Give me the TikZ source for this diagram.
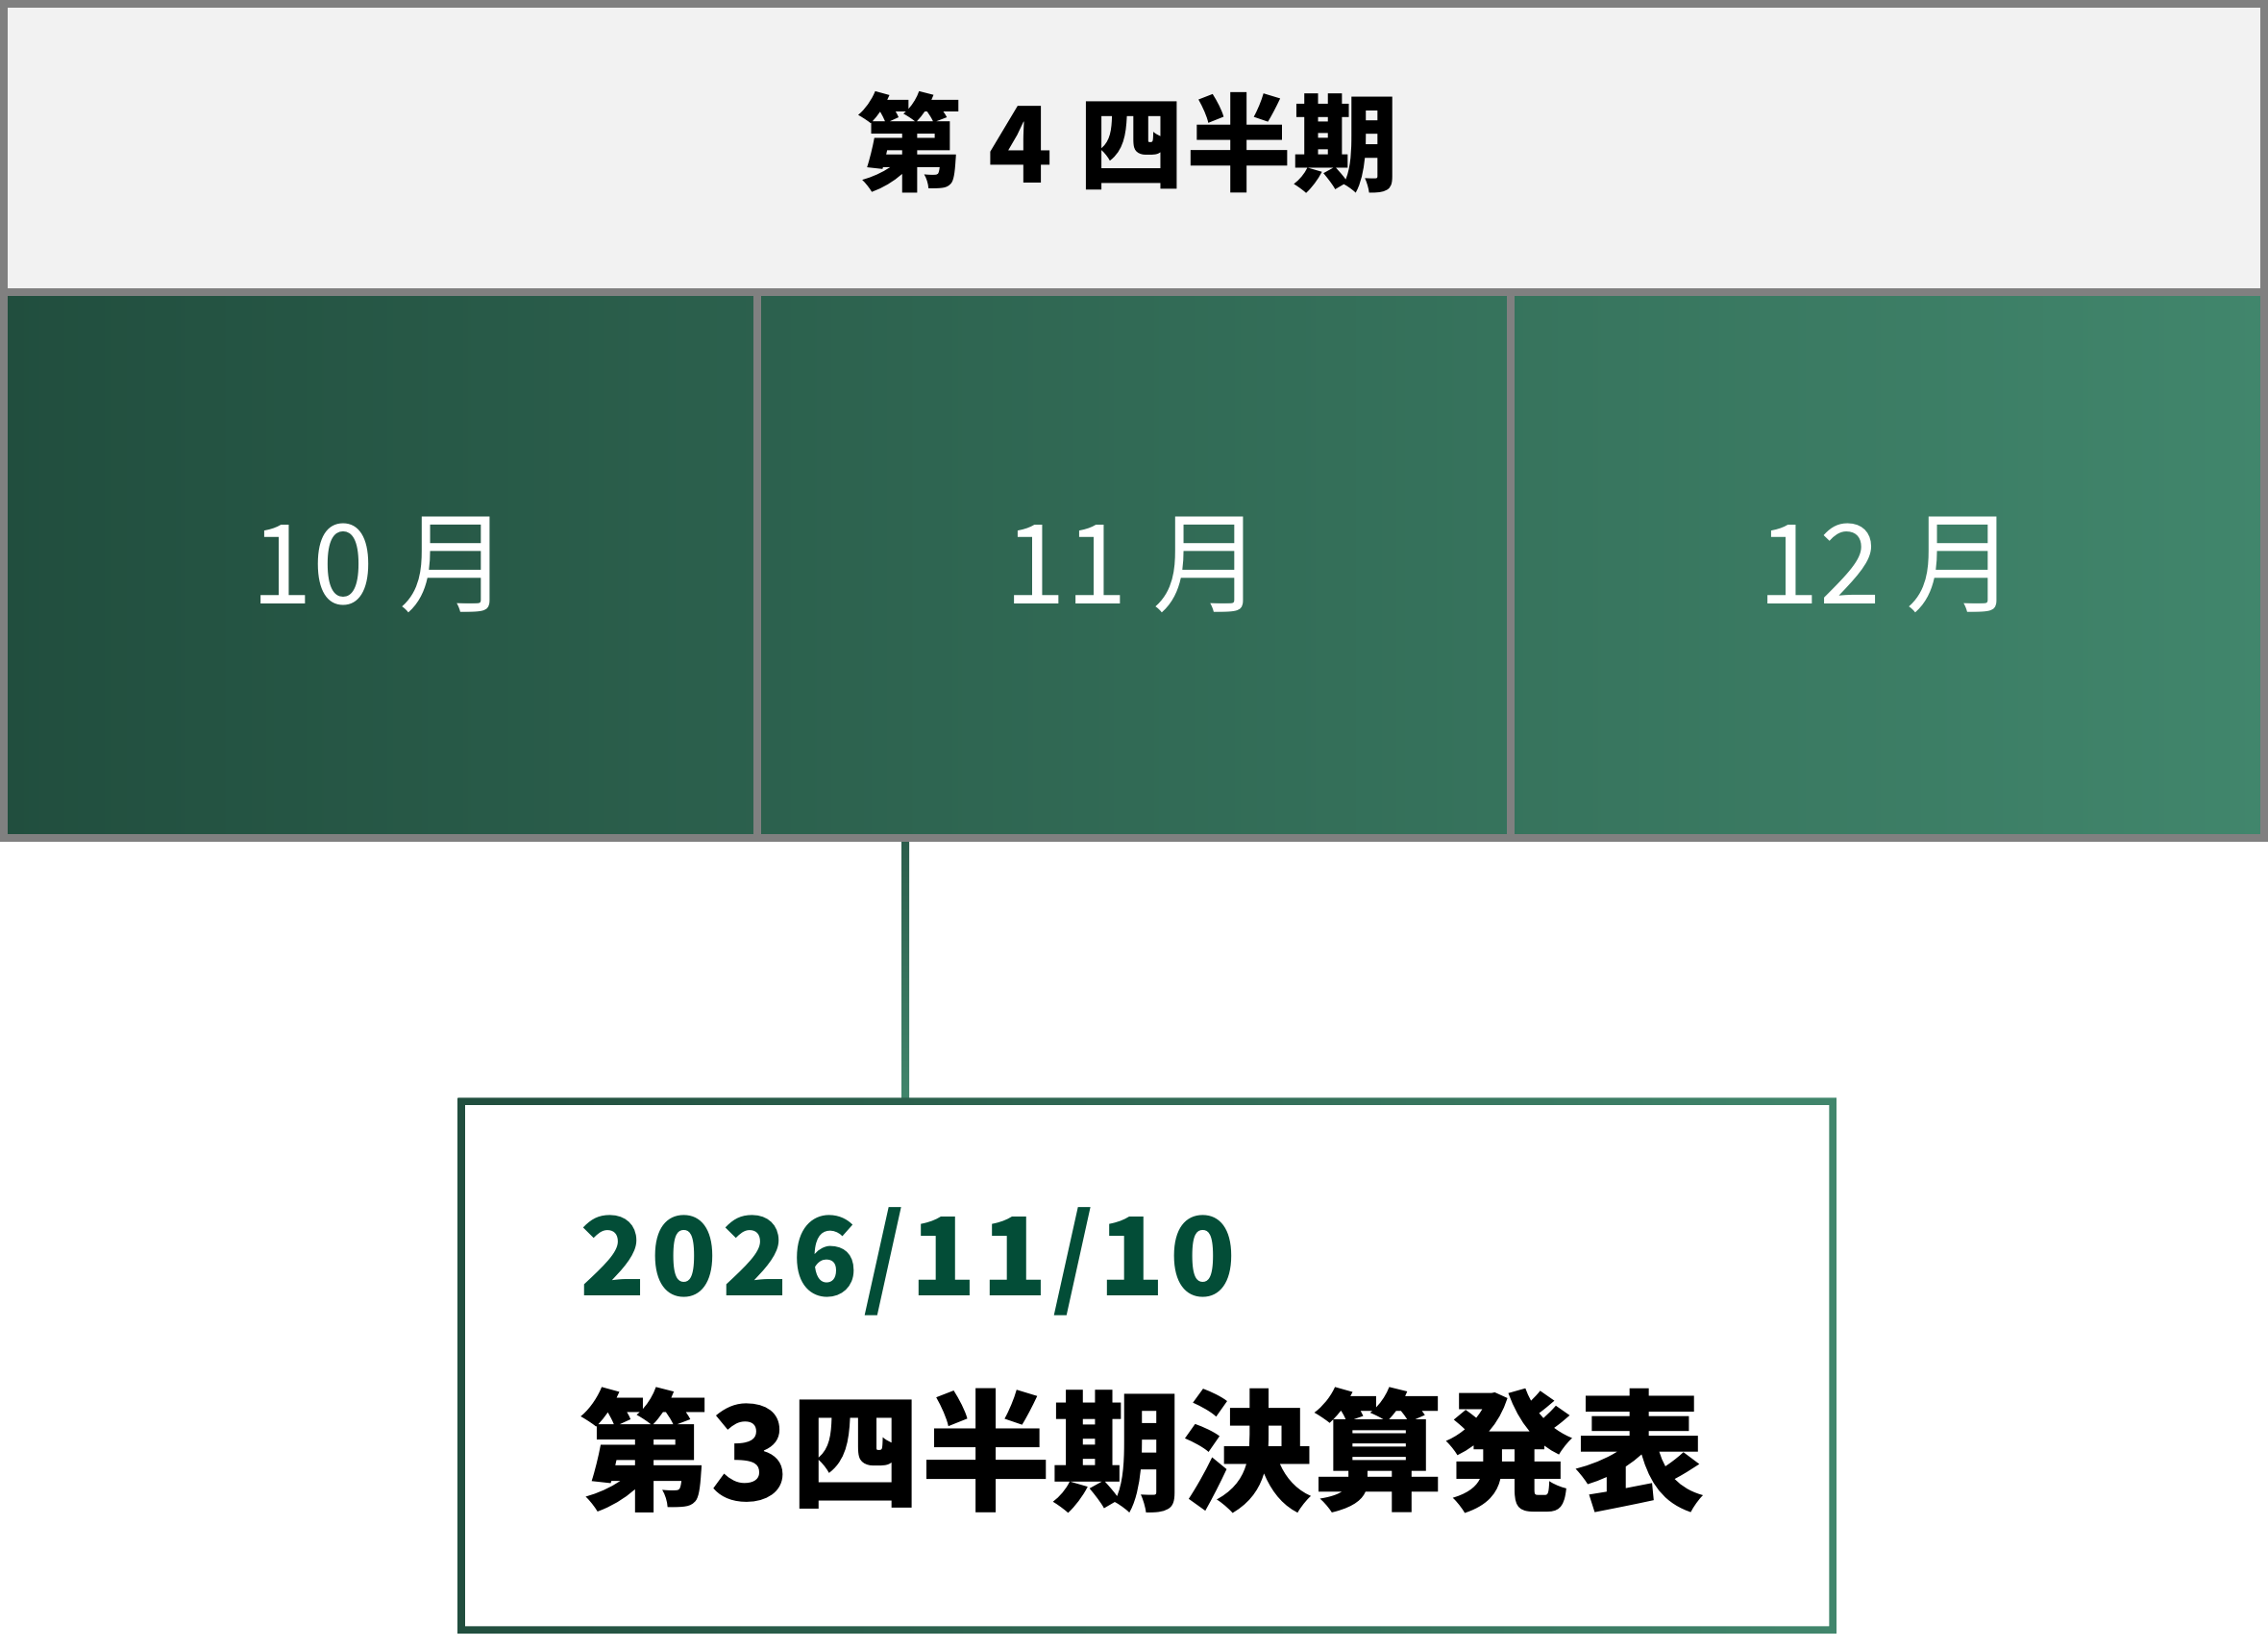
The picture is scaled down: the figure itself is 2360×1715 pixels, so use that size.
\documentclass[tikz,border=0pt]{standalone}
\usepackage{fontspec}
\newfontfamily\jp{Noto Sans CJK JP}
\newfontfamily\jpsp{Noto Sans CJK JP}[LetterSpace=4.5]
\newfontfamily\jphead{Noto Sans CJK JP}[LetterSpace=1.5]
\usetikzlibrary{calc}
\definecolor{gridgray}{HTML}{808080}
\definecolor{headfill}{HTML}{F2F2F2}
\definecolor{gA}{HTML}{214E3E}
\definecolor{gB}{HTML}{41866C}
\definecolor{lineTop}{HTML}{2B5D4B}
\definecolor{datecol}{HTML}{034D37}
\begin{document}
\begin{tikzpicture}[x=1pt,y=1pt,
  monthcell/.style={draw=gridgray, line width=8pt, minimum width=784pt, minimum height=568pt,
    inner sep=0pt, outer sep=0pt, anchor=north west, text=white,
    font=\jp\fontsize{115}{140}\selectfont},
  headcell/.style={draw=gridgray, fill=headfill, line width=8pt, minimum width=2352pt,
    minimum height=300pt, inner sep=0pt, outer sep=0pt, anchor=north west},
  headlabel/.style={inner sep=0pt, text=black,
    font=\jphead\bfseries\fontsize{110}{140}\selectfont},
  eventbox/.style={minimum width=1427pt, minimum height=550pt, inner sep=0pt, outer sep=0pt,
    anchor=north west},
  datetext/.style={anchor=base west, inner sep=0pt, text=datecol,
    font=\jpsp\bfseries\fontsize{113}{140}\selectfont},
  titletext/.style={anchor=base west, inner sep=0pt, text=black,
    font=\jp\bfseries\fontsize{136}{160}\selectfont}]
\useasboundingbox (0,0) rectangle (2360,-1715);
% gradient background of the month row
\shade[left color=gA, right color=gB] (4,-304) rectangle (2356,-872);
% event box (geometry node)
\node[eventbox] (evt) at (480,-1146) {};
% month cells
\coordinate (cx) at (942,0);
\node[monthcell] (oct) at (4,-304) {10 月};
\node[monthcell] (nov) at (788,-304) {11 月};
\node[monthcell] (dec) at (1572,-304) {12 月};
% connector from November to the event box
\coordinate (ct) at (cx |- nov.south);
\coordinate (cb) at (cx |- evt.north);
\shade[top color=lineTop, bottom color=gB] ($(ct)+(-4,-4)$) rectangle ($(cb)+(4,0)$);
\draw[gridgray, line width=8pt] (oct.south west) -- (dec.south east);
% header
\node[headcell] (q4box) at (4,-4) {};
\node[headlabel] (q4) at ($(q4box.center)+(-6,6)$) {第 4 四半期};
% event box border with horizontal gradient
\shade[left color=gA, right color=gB, even odd rule]
  ($(evt.north west)+(-3.75,3.75)$) rectangle ($(evt.south east)+(3.75,-3.75)$)
  ($(evt.north west)+(3.75,-3.75)$) rectangle ($(evt.south east)+(-3.75,3.75)$);
% texts
\node[datetext] (date) at (603,-1348) {2026/11/10};
\node[titletext] (title) at (603,-1561) {第3四半期決算発表};
\end{tikzpicture}
\end{document}
